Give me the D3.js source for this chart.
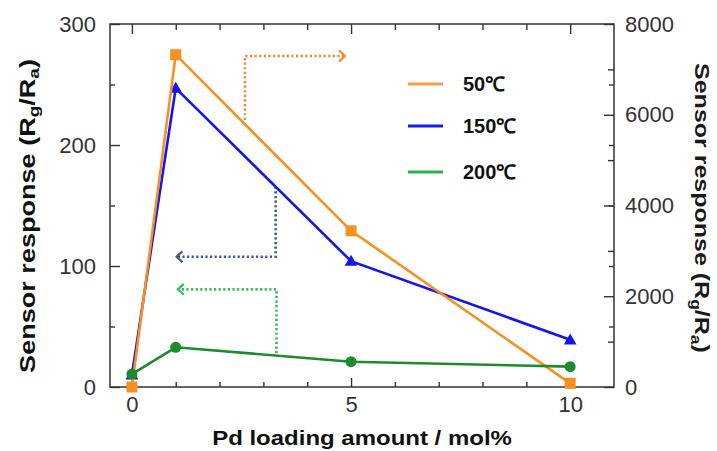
<!DOCTYPE html>
<html>
<head>
<meta charset="utf-8">
<script src="https://cdn.jsdelivr.net/npm/d3@7"></script>
<style>
html,body{margin:0;padding:0;background:#fff;}
svg{display:block;}
text{font-family:"Liberation Sans",Arial,Helvetica,sans-serif;}
</style>
</head>
<body>
<svg id="chart" width="717" height="451"></svg>
<script>
// ---------- data ----------
const loading = [0, 1, 5, 10];                 // Pd loading amount / mol%
const resp50C = [0, 7324, 3442, 80];           // right axis
const resp150C = [10, 247, 104, 39];           // left axis
const resp200C = [10.7, 32.8, 20.9, 16.8];     // left axis
const seriesNames = ["50\u2103", "150\u2103", "200\u2103"];
const xMajorTicks = [0, 5, 10];
const xMinorTicks = [1, 2, 3, 4, 6, 7, 8, 9];
const leftMajorTicks = [0, 100, 200, 300];
const leftMinorTicks = [50, 150, 250];
const rightMajorTicks = [0, 2000, 4000, 6000, 8000];
const rightMinorTicks = [1000, 3000, 5000, 7000];
// annotation arrows (x in mol%, y in left-axis units)
const arrowOrange = [[2.58, 220.7], [2.58, 273.6], [4.86, 273.6]];
const arrowBlue = [[3.28, 165.5], [3.28, 107.7], [1.02, 107.7]];
const arrowGreen = [[3.30, 27.9], [3.30, 80.7], [1.05, 80.7]];

// ---------- layout ----------
const L = 110, R = 614, T = 24, B = 387;
const svg = d3.select("#chart");
const x = d3.scaleLinear().domain([-0.5, 11]).range([L, R]);
const yL = d3.scaleLinear().domain([0, 300]).range([B, T]);
const yR = d3.scaleLinear().domain([0, 8000]).range([B, T]);

const axisColor = "#333";
const tickFont = 22;

function styleAxis(g, showText) {
  g.select(".domain").remove();
  g.selectAll("line").attr("stroke", axisColor).attr("stroke-width", 1.4);
  g.selectAll("text").attr("fill", "#333").style("font-size", tickFont + "px");
  if (!showText) g.selectAll("text").remove();
}

// bottom
svg.append("g").attr("transform", `translate(0,${B})`)
  .call(d3.axisBottom(x).tickValues(xMajorTicks).tickSizeInner(-9).tickSizeOuter(0).tickPadding(9).tickFormat(d3.format("d")))
  .call(g => styleAxis(g, true));
svg.append("g").attr("transform", `translate(0,${B})`)
  .call(d3.axisBottom(x).tickValues(xMinorTicks).tickSizeInner(-5).tickSizeOuter(0).tickFormat(""))
  .call(g => styleAxis(g, false));
// top
svg.append("g").attr("transform", `translate(0,${T})`)
  .call(d3.axisTop(x).tickValues(xMajorTicks).tickSizeInner(-10).tickSizeOuter(0).tickFormat(""))
  .call(g => styleAxis(g, false));
svg.append("g").attr("transform", `translate(0,${T})`)
  .call(d3.axisTop(x).tickValues(xMinorTicks).tickSizeInner(-6).tickSizeOuter(0).tickFormat(""))
  .call(g => styleAxis(g, false));
// left
svg.append("g").attr("transform", `translate(${L},0)`)
  .call(d3.axisLeft(yL).tickValues(leftMajorTicks).tickSizeInner(-10).tickSizeOuter(0).tickPadding(14).tickFormat(d3.format("d")))
  .call(g => styleAxis(g, true));
svg.append("g").attr("transform", `translate(${L},0)`)
  .call(d3.axisLeft(yL).tickValues(leftMinorTicks).tickSizeInner(-5).tickSizeOuter(0).tickFormat(""))
  .call(g => styleAxis(g, false));
// right (own ticks + mirrored left ticks)
svg.append("g").attr("transform", `translate(${R},0)`)
  .call(d3.axisRight(yR).tickValues(rightMajorTicks).tickSizeInner(-10).tickSizeOuter(0).tickPadding(11).tickFormat(d3.format("d")))
  .call(g => styleAxis(g, true));
svg.append("g").attr("transform", `translate(${R},0)`)
  .call(d3.axisRight(yR).tickValues(rightMinorTicks).tickSizeInner(-6).tickSizeOuter(0).tickFormat(""))
  .call(g => styleAxis(g, false));
svg.append("g").attr("transform", `translate(${R},0)`)
  .call(d3.axisRight(yL).tickValues(leftMinorTicks.concat([100, 200])).tickSizeInner(-5).tickSizeOuter(0).tickFormat(""))
  .call(g => styleAxis(g, false));

// frame
svg.append("rect").attr("x", L).attr("y", T).attr("width", R - L).attr("height", B - T)
  .attr("fill", "none").attr("stroke", axisColor).attr("stroke-width", 1.5);

// ---------- annotation arrows ----------
function drawArrow(pts, color) {
  const line = d3.line().x(d => x(d[0])).y(d => yL(d[1]));
  svg.append("path").attr("d", line(pts)).attr("fill", "none")
    .attr("stroke", color).attr("stroke-width", 2.6).attr("stroke-dasharray", "2.2,2.4");
  const p1 = pts[pts.length - 2], p2 = pts[pts.length - 1];
  const x1 = x(p1[0]), y1 = yL(p1[1]), x2 = x(p2[0]), y2 = yL(p2[1]);
  const ang = Math.atan2(y2 - y1, x2 - x1);
  const len = 8, spread = 0.75;
  const a = [x2 - len * Math.cos(ang - spread), y2 - len * Math.sin(ang - spread)];
  const b = [x2 - len * Math.cos(ang + spread), y2 - len * Math.sin(ang + spread)];
  svg.append("path").attr("d", `M${a[0]},${a[1]}L${x2},${y2}L${b[0]},${b[1]}`)
    .attr("fill", "none").attr("stroke", color).attr("stroke-width", 2.2);
}
drawArrow(arrowOrange, "#f08a2c");
drawArrow(arrowBlue, "#3d5b92");
drawArrow(arrowGreen, "#30c05e");

// ---------- series ----------
const cOrange = "#f7901e", cBlue = "#1414f0", cGreen = "#1e8c2c";
const d150 = loading.map((v, i) => [v, resp150C[i]]);
const d50 = loading.map((v, i) => [v, resp50C[i]]);
const d200 = loading.map((v, i) => [v, resp200C[i]]);

const lineL = d3.line().x(d => x(d[0])).y(d => yL(d[1]));
const lineR = d3.line().x(d => x(d[0])).y(d => yR(d[1]));

svg.append("path").attr("d", lineL(d150)).attr("fill", "none").attr("stroke", cBlue).attr("stroke-width", 2.6);
svg.selectAll(".tri").data(d150).enter().append("path")
  .attr("transform", d => `translate(${x(d[0])},${yL(d[1]) + 1})`)
  .attr("d", d3.symbol().type(d3.symbolTriangle).size(70)).attr("fill", cBlue);

svg.append("path").attr("d", lineR(d50)).attr("fill", "none").attr("stroke", cOrange).attr("stroke-width", 2.6);
svg.selectAll(".sq").data(d50).enter().append("rect")
  .attr("x", d => x(d[0]) - 5.5).attr("y", d => yR(d[1]) - 5.5)
  .attr("width", 11).attr("height", 11).attr("fill", cOrange);

svg.append("path").attr("d", lineL(d200)).attr("fill", "none").attr("stroke", cGreen).attr("stroke-width", 2.6);
svg.selectAll(".circ").data(d200).enter().append("circle")
  .attr("cx", d => x(d[0])).attr("cy", d => yL(d[1])).attr("r", 5.5).attr("fill", cGreen);

// ---------- legend ----------
const legendColors = ["#f5a04c", "#1a1aee", "#27b34b"];
const legendY = [84, 126, 172];
seriesNames.forEach((name, i) => {
  svg.append("line").attr("x1", 408).attr("x2", 443).attr("y1", legendY[i]).attr("y2", legendY[i])
    .attr("stroke", legendColors[i]).attr("stroke-width", 3);
  svg.append("text").attr("x", 463).attr("y", legendY[i] + 7)
    .style("font-size", "20px").style("font-weight", "bold").attr("fill", "#111").text(name);
});

// ---------- axis titles ----------
function fitText(t, target) {
  const w = t.node().getComputedTextLength();
  return target / w;
}
function addRRa(t) {
  t.append("tspan").text("Sensor response (R");
  t.append("tspan").attr("baseline-shift", "-25%").style("font-size", "70%").text("g");
  t.append("tspan").text("/R");
  t.append("tspan").attr("baseline-shift", "-25%").style("font-size", "70%").text("a");
  t.append("tspan").text(")");
}
// left
const gl = svg.append("g");
const tl = gl.append("text").attr("text-anchor", "middle").style("font-size", "22px").style("font-weight", "bold").attr("fill", "#111");
addRRa(tl);
const kl = fitText(tl, 314);
gl.attr("transform", `translate(35,216) rotate(-90) scale(${kl},1)`);
// right
const gr = svg.append("g");
const tr = gr.append("text").attr("text-anchor", "middle").style("font-size", "21px").style("font-weight", "bold").attr("fill", "#1a1a1a");
addRRa(tr);
const kr = fitText(tr, 290);
gr.attr("transform", `translate(695,208) rotate(90) scale(${kr},1)`);
// bottom
const gb = svg.append("g");
const tb = gb.append("text").attr("text-anchor", "middle").style("font-size", "21px").style("font-weight", "bold").attr("fill", "#111")
  .text("Pd loading amount / mol%");
const kb = fitText(tb, 300);
gb.attr("transform", `translate(362,445) scale(${kb},1)`);
</script>
</body>
</html>
